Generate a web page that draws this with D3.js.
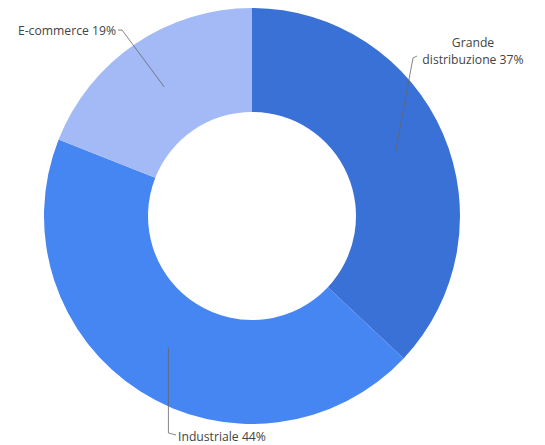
<!DOCTYPE html>
<html><head><meta charset="utf-8">
<script src="https://cdn.jsdelivr.net/npm/d3@7"></script>
<style>body{margin:0;background:#fff}svg{display:block}</style>
</head><body>
<svg id="c" width="545" height="445"></svg>
<script>
const categories = ["Grande distribuzione", "Industriale", "E-commerce"];
const values = [37, 44, 19];
const labelLines = [["Grande", "distribuzione 37%"], ["Industriale 44%"], ["E-commerce 19%"]];
const colors = ["#3a71d6", "#4586f2", "#a3baf6"];

const svg = d3.select("#c");
const cx = 252, cy = 216, rOut = 208, rIn = 104;
const g = svg.append("g").attr("transform", `translate(${cx},${cy})`);
const pie = d3.pie().sort(null).value(d => d)(values);
const arc = d3.arc().innerRadius(rIn).outerRadius(rOut);
const mid = d3.arc().innerRadius(156).outerRadius(156);

g.selectAll("path.s").data(pie).join("path").attr("class", "s")
  .attr("d", arc).attr("fill", (d, i) => colors[i]);

// label layout (relative to centre)
const layout = [
  {elbow: [161, -158], end: [165, -160], anchor: "middle", tx: 221, ty: [-169, -152]},
  {elbow: null, vertX: true, bottom: 217, end: [-76, 219], anchor: "start", tx: -74, ty: [225]},
  {elbow: [-130, -186], end: [-134, -186], anchor: "end", tx: -136, ty: [-181]}
];
pie.forEach((d, i) => {
  const c = mid.centroid(d);
  const L = layout[i];
  let pts;
  if (L.vertX) pts = [c, [c[0], L.bottom], L.end];
  else pts = [c, L.elbow, L.end];
  g.append("path").attr("d", d3.line()(pts)).attr("fill", "none")
    .attr("stroke", "#666").attr("stroke-width", 0.8);
  const t = g.append("text").attr("font-family", "Open Sans, sans-serif").attr("font-size", 12.2)
    .attr("fill", "#444").attr("text-anchor", L.anchor);
  labelLines[i].forEach((s, k) => {
    t.append("tspan").attr("x", L.tx).attr("y", L.ty[k]).text(s);
  });
});
</script>
</body></html>
